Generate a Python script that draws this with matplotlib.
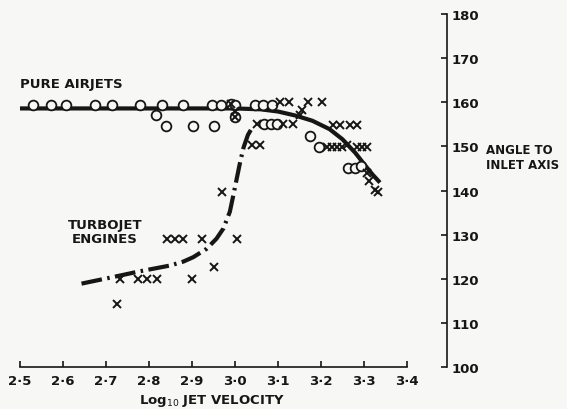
import matplotlib
matplotlib.use('Agg')
import matplotlib.pyplot as plt

# x: log10 jet velocity, y: angle to inlet axis (degrees)
airjet_line_x = [2.477, 2.70, 2.90, 3.00, 3.06, 3.10, 3.14, 3.18, 3.22, 3.25, 3.28, 3.30, 3.32, 3.337]
airjet_line_y = [158.6, 158.6, 158.6, 158.6, 158.4, 157.9, 157.0, 155.8, 153.9, 151.6, 148.5, 146.0, 143.6, 141.8]

turbojet_line_x = [2.643, 2.717, 2.779, 2.849, 2.880, 2.903, 2.934, 2.957, 2.973, 2.988, 2.996,
                   3.004, 3.012, 3.020, 3.030, 3.042]
turbojet_line_y = [118.9, 120.4, 121.7, 123.0, 123.9, 124.9, 126.8, 129.1, 131.4, 135.2, 138.9,
                   142.7, 146.5, 149.8, 152.6, 154.6]

airjet_x = [2.531, 2.571, 2.606, 2.674, 2.713, 2.779, 2.831, 2.878, 2.946, 2.968, 2.99, 3.00,
            3.00, 3.047, 3.066, 3.085,
            2.816, 2.839, 2.903, 2.950,
            3.068, 3.083, 3.098,
            3.174, 3.196, 3.262, 3.278, 3.293]
airjet_y = [159.3, 159.3, 159.3, 159.3, 159.3, 159.3, 159.3, 159.3, 159.3, 159.3, 159.5, 159.3,
            156.6, 159.4, 159.4, 159.4,
            157.1, 154.6, 154.6, 154.6,
            155.0, 155.0, 155.0,
            152.4, 149.9, 145.0, 145.0, 145.5]

turbojet_x = [2.99, 3.00, 3.00,
              3.105, 3.125, 3.170, 3.202,
              3.155, 3.150,
              3.050, 3.112, 3.135,
              3.228, 3.244, 3.267, 3.284,
              3.213, 3.225, 3.236, 3.248, 3.260, 3.283, 3.295, 3.308,
              3.308, 3.312, 3.326, 3.333,
              3.040, 3.057,
              2.969, 2.841, 2.860, 2.880, 2.923, 3.004, 2.950,
              2.733, 2.774, 2.795, 2.819, 2.899, 2.725]
turbojet_y = [159.5, 158.0, 156.6,
              160.1, 160.1, 160.0, 160.0,
              158.2, 157.0,
              155.0, 155.0, 155.0,
              154.9, 154.9, 154.9, 154.9,
              149.9, 149.9, 149.9, 149.9, 150.4, 149.9, 149.9, 149.9,
              143.9, 142.1, 140.1, 139.7,
              150.3, 150.3,
              139.7, 129.1, 129.1, 129.1, 129.1, 129.1, 122.7,
              120.0, 120.0, 120.0, 120.0, 120.0, 114.3]

x_ticks = [2.5, 2.6, 2.7, 2.8, 2.9, 3.0, 3.1, 3.2, 3.3, 3.4]
x_tick_labels = ['2·5', '2·6', '2·7', '2·8', '2·9', '3·0', '3·1', '3·2', '3·3', '3·4']
y_ticks = [100, 110, 120, 130, 140, 150, 160, 170, 180]
y_tick_labels = ['100', '110', '120', '130', '140', '150', '160', '170', '180']

ink = '#161616'
paper = '#f7f7f5'
fs = 9.5

fig = plt.figure(figsize=(5.67, 4.10), dpi=100, facecolor=paper)
ax = fig.add_axes([0.0353, 0.1024, 0.7531, 0.8610])
ax.set_facecolor('none')

ax.plot(airjet_line_x, airjet_line_y, color=ink, lw=3.0, solid_capstyle='butt', zorder=2)
ax.plot(turbojet_line_x, turbojet_line_y, color=ink, lw=3.0,
        linestyle=(0, (5, 1.3, 0.6, 1.3)), zorder=2)

ax.plot(airjet_x, airjet_y, linestyle='none', marker='o', ms=7, mfc=paper, mec=ink, mew=1.3, zorder=3)
ax.plot(turbojet_x, turbojet_y, linestyle='none', marker='x', ms=6, mec=ink, mew=1.4, zorder=4)

ax.set_xlim(2.5, 3.493)
ax.set_ylim(100, 180)

for side in ['left', 'top']:
    ax.spines[side].set_visible(False)
ax.spines['bottom'].set_bounds(2.5, 3.4)
ax.spines['right'].set_bounds(100, 180)
for side in ['bottom', 'right']:
    ax.spines[side].set_color(ink)
    ax.spines[side].set_linewidth(1.2)

ax.yaxis.tick_right()
ax.set_xticks(x_ticks)
ax.set_xticklabels(x_tick_labels, fontweight='bold')
ax.set_yticks(y_ticks)
ax.set_yticklabels(y_tick_labels, fontweight='bold')
ax.tick_params(axis='x', direction='in', length=4, width=1.2, color=ink, pad=5,
               labelsize=fs, labelcolor=ink)
ax.tick_params(axis='y', direction='in', length=4, width=1.2, color=ink, pad=3,
               labelsize=fs, labelcolor=ink)

ax.text(2.5, 164.3, 'PURE AIRJETS', ha='left', va='center', fontsize=fs,
        fontweight='bold', color=ink)
ax.text(2.698, 130.7, 'TURBOJET\nENGINES', ha='center', va='center', fontsize=fs,
        fontweight='bold', color=ink, linespacing=1.15)

fig.text(212 / 567, 1 - 401 / 410, 'Log$_{10}$ JET VELOCITY', ha='center', va='center',
         fontsize=fs, fontweight='bold', color=ink)
fig.text(486 / 567, 1 - 158 / 410, 'ANGLE TO\nINLET AXIS', ha='left', va='center',
         fontsize=8.5, fontweight='bold', color=ink, linespacing=1.2)

fig.savefig('out.png', dpi=100, facecolor=fig.get_facecolor())
